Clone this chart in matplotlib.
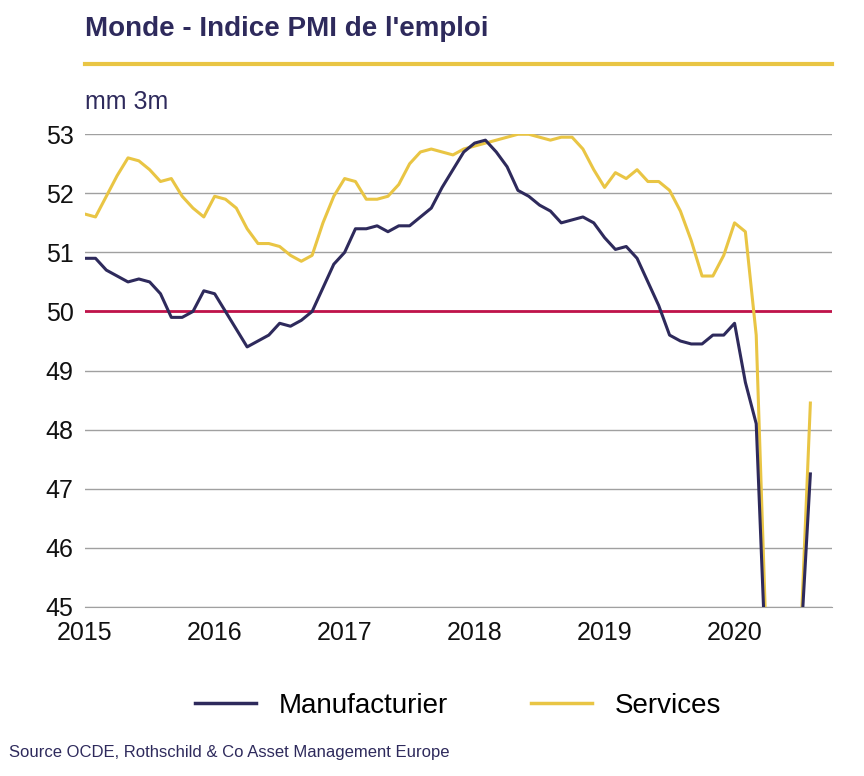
import numpy as np
import pandas as pd
import matplotlib
matplotlib.use("Agg")
from matplotlib import pyplot as plt
from matplotlib.lines import Line2D

plt.rcParams["font.family"] = ["Liberation Sans", "DejaVu Sans"]

dates = pd.date_range("2015-01-01", "2020-08-01", freq="MS")

manufacturier = [
    50.9, 50.9, 50.7, 50.6, 50.5, 50.55, 50.5, 50.3, 49.9, 49.9, 50.0, 50.35,
    50.3, 50.0, 49.7, 49.4, 49.5, 49.6, 49.8, 49.75, 49.85, 50.0, 50.4, 50.8,
    51.0, 51.4, 51.4, 51.45, 51.35, 51.45, 51.45, 51.6, 51.75, 52.1, 52.4, 52.7,
    52.85, 52.9, 52.7, 52.45, 52.05, 51.95, 51.8, 51.7, 51.5, 51.55, 51.6, 51.5,
    51.25, 51.05, 51.1, 50.9, 50.5, 50.1, 49.6, 49.5, 49.45, 49.45, 49.6, 49.6,
    49.8, 48.8, 48.1, 43.5, 41.0, 42.0, 44.0, 47.25,
]
services = [
    51.65, 51.6, 51.95, 52.3, 52.6, 52.55, 52.4, 52.2, 52.25, 51.95, 51.75, 51.6,
    51.95, 51.9, 51.75, 51.4, 51.15, 51.15, 51.1, 50.95, 50.85, 50.95, 51.5, 51.95,
    52.25, 52.2, 51.9, 51.9, 51.95, 52.15, 52.5, 52.7, 52.75, 52.7, 52.65, 52.75,
    52.8, 52.85, 52.9, 52.95, 53.0, 53.0, 52.95, 52.9, 52.95, 52.95, 52.75, 52.4,
    52.1, 52.35, 52.25, 52.4, 52.2, 52.2, 52.05, 51.7, 51.2, 50.6, 50.6, 50.95,
    51.5, 51.35, 49.6, 44.0, 40.0, 42.0, 44.0, 48.45,
]
years = [2015, 2016, 2017, 2018, 2019, 2020]

navy = "#2E2A5C"
gold = "#E9C544"
red = "#C0134A"

fig = plt.figure(figsize=(8.64, 7.76), dpi=100)
ax = fig.add_axes([0.098, 0.218, 0.865, 0.609])

x = np.array([d.year + (d.month - 1) / 12 for d in dates])
ax.plot(x, services, color=gold, lw=2.2, zorder=3)
ax.plot(x, manufacturier, color=navy, lw=2.2, zorder=4)
ax.axhline(50, color=red, lw=2, zorder=2)

ax.set_ylim(45, 53)
ax.set_xlim(2015, 2020.75)
ax.set_yticks(range(45, 54))
ax.set_xticks(years)
ax.set_xticklabels([str(y) for y in years])
ax.yaxis.grid(True, color="#A0A0A0", lw=1)
ax.set_axisbelow(True)
for s in ["top", "right", "left"]:
    ax.spines[s].set_visible(False)
ax.spines["bottom"].set_color("#A0A0A0")
ax.tick_params(length=0, labelsize=18, colors="#111111")
ax.tick_params(axis="x", pad=10)
ax.tick_params(axis="y", pad=8)

fig.text(0.098, 0.962, "Monde - Indice PMI de l'emploi", fontsize=20,
         fontweight="bold", color=navy, va="center")
fig.add_artist(Line2D([0.098, 0.963], [0.918, 0.918], color=gold, lw=3))
fig.text(0.098, 0.868, "mm 3m", fontsize=18, color=navy, va="center")

handles = [Line2D([], [], color=navy, lw=2.5), Line2D([], [], color=gold, lw=2.5)]
fig.legend(handles, ["Manufacturier", "Services"], loc="center",
           bbox_to_anchor=(0.53, 0.09), ncol=2, frameon=False, fontsize=20,
           handlelength=2.2, columnspacing=3)
fig.text(0.01, 0.03, "Source OCDE, Rothschild & Co Asset Management Europe",
         fontsize=12, color=navy, va="center")

fig.savefig("out.png", dpi=100)
